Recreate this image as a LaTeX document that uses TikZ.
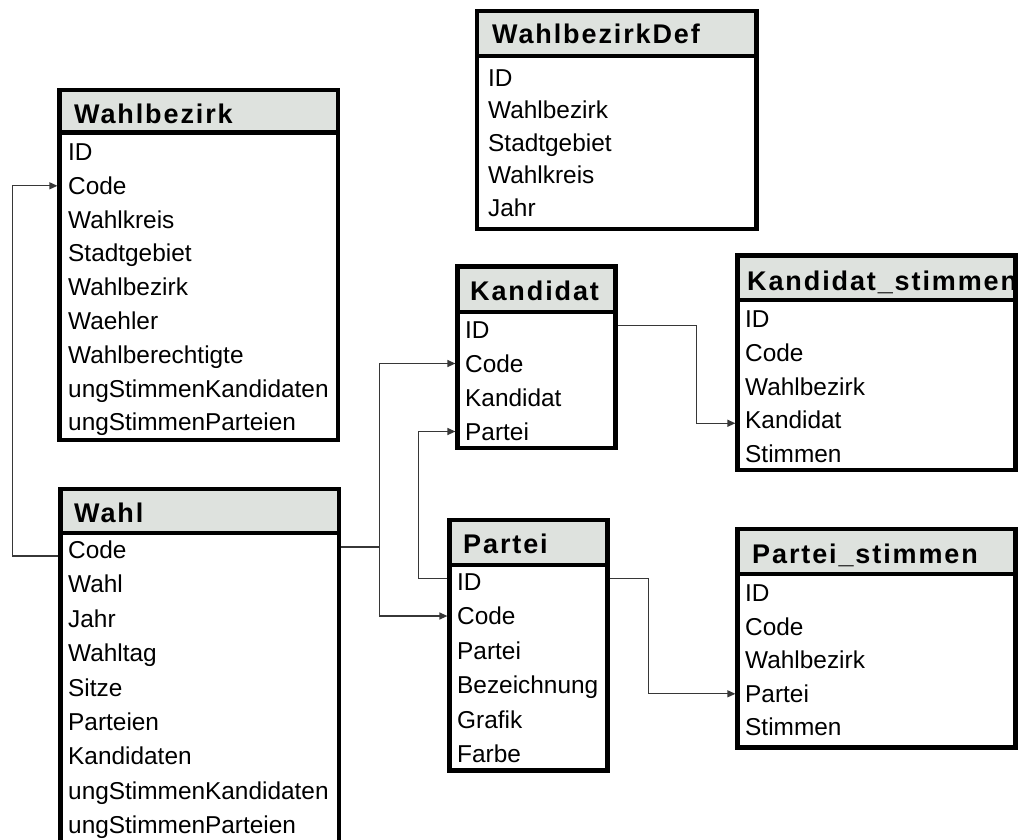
\documentclass[tikz,border=0pt]{standalone}
\usepackage{fontspec}
\setmainfont{Liberation Sans}
\newfontfamily\hdrfamily{Liberation Sans Bold}[LetterSpace=7]
\usetikzlibrary{arrows.meta,fit,calc}
\definecolor{hdrgray}{RGB}{222,226,222}
\definecolor{linegray}{RGB}{55,55,55}
\tikzset{
  tablebox/.style={draw=black, line width=4.2pt, inner sep=0pt},
  tableline/.style={draw=black, line width=4.2pt},
  rowtext/.style={anchor=base west, inner sep=0pt, text height=17pt, text depth=0pt,
    font=\fontsize{24.4}{28}\selectfont},
  hdrtext/.style={anchor=base west, inner sep=0pt,
    font=\hdrfamily\fontsize{27}{30}\selectfont},
  conn/.style={draw=linegray, line width=1.2pt},
  arr/.style={conn, -{Triangle[length=8pt,width=7pt]}}
}
\newcommand{\dbtable}[6]{%
  \fill[hdrgray] (#2,#3) rectangle (#4,#6);
  \node[tablebox, fit={(#2,#3) (#4,#5)}] (#1) {};
  \draw[tableline] (#2,#6) -- (#4,#6);
}
\newcommand{\dbrows}[5]{%
  \foreach \t [count=\i] in {#5}
    \node[rowtext] (#1-\i) at (#2, {#3+8.5+(\i-1)*#4}) {\t};
}
\begin{document}
\begin{tikzpicture}[x=1pt,y=-1pt]
\useasboundingbox (0,0) rectangle (1031,839);
\clip (0,0) rectangle (1031,839);

% WahlbezirkDef
\dbtable{wd}{477}{11}{756.5}{229}{56}
\node[hdrtext] (wd-h) at (492,43) {WahlbezirkDef};
\dbrows{wd}{488}{77.5}{32.5}{ID,Wahlbezirk,Stadtgebiet,Wahlkreis,Jahr}

% Wahlbezirk
\dbtable{wb}{59.5}{90}{338}{440}{132.5}
\node[hdrtext] (wb-h) at (74,123) {Wahlbezirk};
\dbrows{wb}{68}{152}{33.8}{ID,Code,Wahlkreis,Stadtgebiet,Wahlbezirk,Waehler,Wahlberechtigte,ungStimmenKandidaten,ungStimmenParteien}

% Wahl
\dbtable{wa}{60.5}{489}{339}{880}{533}
\node[hdrtext] (wa-h) at (74,522) {Wahl};
\dbrows{wa}{68}{550}{34.4}{Code,Wahl,Jahr,Wahltag,Sitze,Parteien,Kandidaten,ungStimmenKandidaten,ungStimmenParteien}

% Kandidat
\dbtable{ka}{457.5}{266.5}{615.5}{448}{312}
\node[hdrtext] (ka-h) at (470,300) {Kandidat};
\dbrows{ka}{465}{329.5}{34}{ID,Code,Kandidat,Partei}

% Kandidat_stimmen
\dbtable{ks}{737.5}{255.5}{1015.5}{470}{300}
\node[hdrtext] (ks-h) at (747,290) {Kandidat\_stimmen};
\dbrows{ks}{745}{319}{33.75}{ID,Code,Wahlbezirk,Kandidat,Stimmen}

% Partei
\dbtable{pa}{449.5}{520}{607.5}{770.5}{565}
\node[hdrtext] (pa-h) at (463,553) {Partei};
\dbrows{pa}{457}{581.5}{34.5}{ID,Code,Partei,Bezeichnung,Grafik,Farbe}

% Partei_stimmen
\dbtable{ps}{737.5}{529}{1015.5}{747.5}{574}
\node[hdrtext] (ps-h) at (752,563) {Partei\_stimmen};
\dbrows{ps}{745}{593}{33.6}{ID,Code,Wahlbezirk,Partei,Stimmen}

% connectors
\draw[arr] ($(wa.west |- wa-1)+(0,6)$) -- ++(-46,0) |- (wb.west |- wb-2);
\draw[conn] ($(wa.east |- wa-1)+(0,-3)$) -- ++(38,0) coordinate (jn);
\draw[arr] (jn) |- (ka.west |- ka-2);
\draw[arr] (jn) |- (pa.west |- pa-2);
\draw[arr] ($(pa.west |- pa-1)+(0,-3)$) -- ++(-29,0) |- (ka.west |- ka-4);
\draw[arr] ($(ka.east |- ka-1)+(0,-4)$) -- ++(79,0) |- ($(ks.west |- ks-4)+(0,3)$);
\draw[arr] ($(pa.east |- pa-1)+(0,-3)$) -- ++(39,0) |- (ps.west |- ps-4);
\end{tikzpicture}
\end{document}
